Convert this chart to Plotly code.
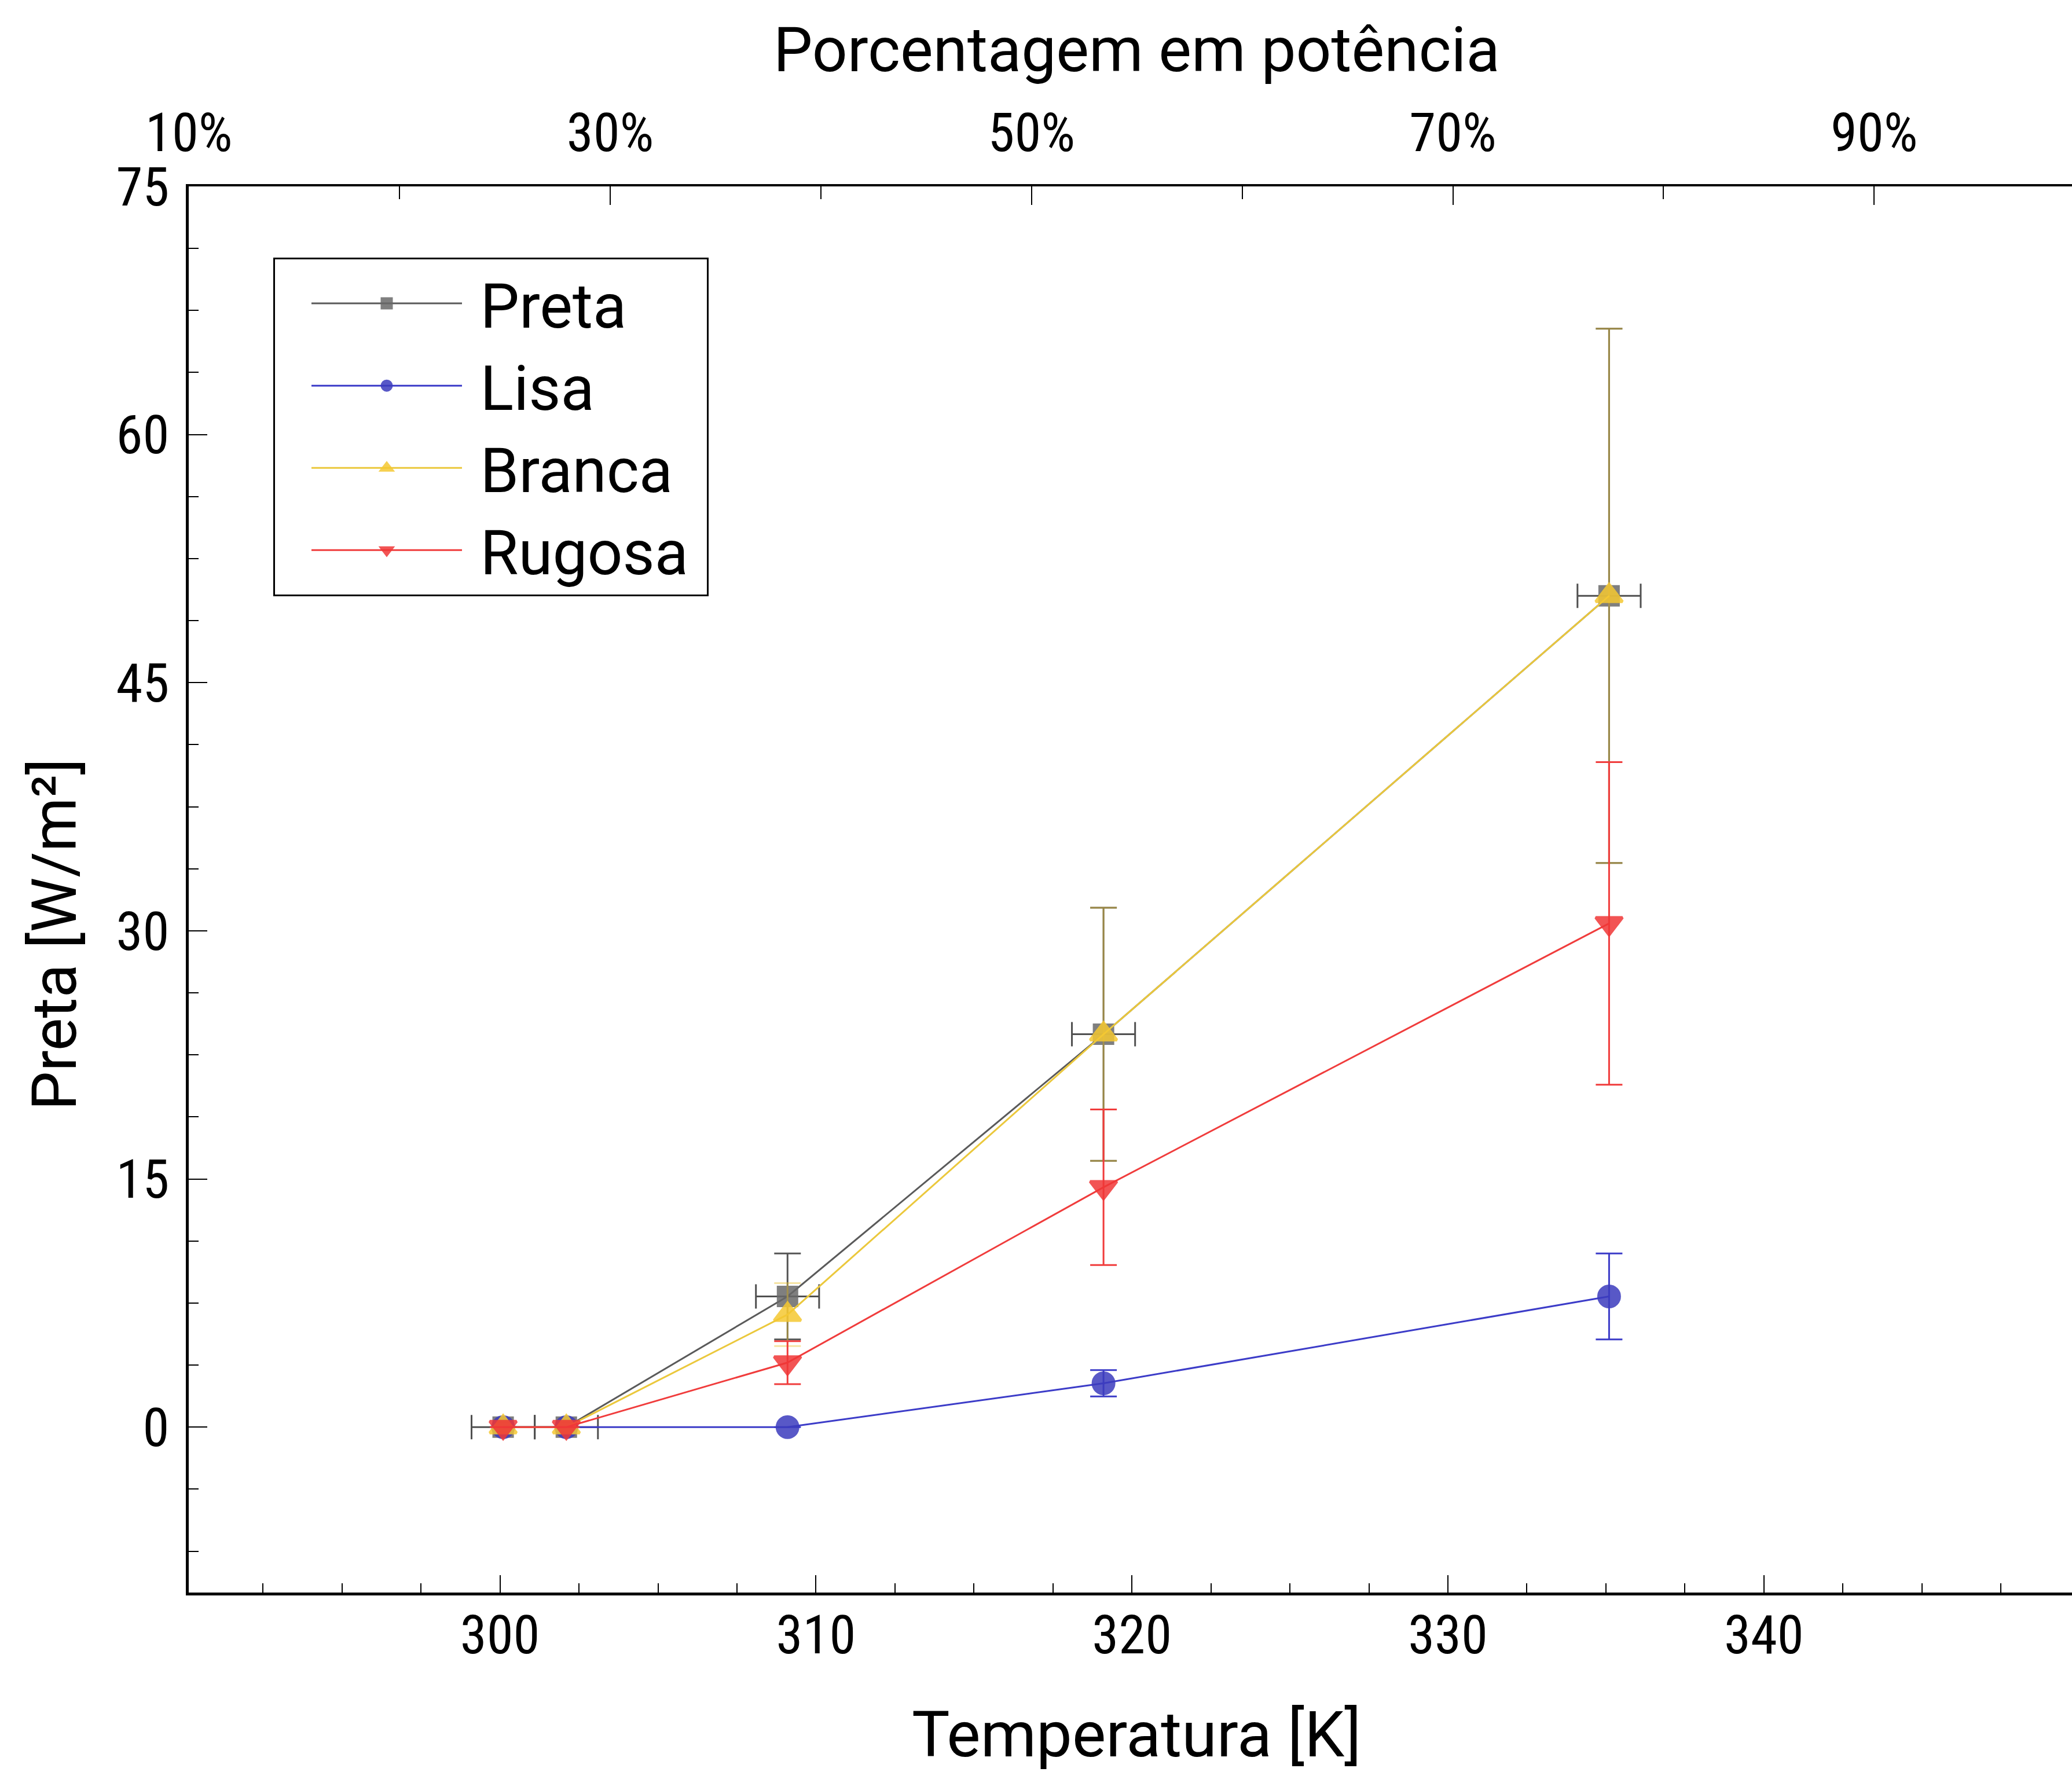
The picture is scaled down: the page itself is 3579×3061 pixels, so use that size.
import plotly.graph_objects as go

# ---- data ----
temperature = [300.1, 302.1, 309.1, 319.1, 335.1]
temperature_err = [1.0, 1.0, 1.0, 1.0, 1.0]

preta = [0, 0, 7.9, 23.75, 50.25]
preta_err = [None, None, 2.6, 7.65, 16.15]

lisa = [0, 0, 0, 2.65, 7.9]
lisa_err = [None, None, None, 0.8, 2.6]

branca = [0, 0, 6.8, 23.75, 50.25]
branca_err = [None, None, 1.9, 7.65, 16.15]

rugosa = [0, 0, 3.9, 14.5, 30.45]
rugosa_err = [None, None, 1.3, 4.7, 9.75]

temp_ticks = [300, 310, 320, 330, 340]
pct_ticks = [10, 30, 50, 70, 90]
y_ticks = [0, 15, 30, 45, 60, 75]

# ---- styling ----
W, H = 3579, 3061
L, R, T, B = 326, 0, 322, 310
TICK_FONT = "Liberation Sans Narrow, Roboto Condensed, Roboto, sans-serif"
TEXT_FONT = "Roboto, Lato, sans-serif"
NB = "\u00a0"

series = [
    ("Preta", preta, preta_err, "rgb(105,105,105)", "rgb(90,90,90)", "rgb(85,85,85)",
     "square", 32, True),
    ("Lisa", lisa, lisa_err, "rgb(60,60,190)", "rgb(60,60,200)", "rgb(60,60,200)",
     "circle", 36, False),
    ("Branca", branca, branca_err, "rgb(245,200,50)", "rgb(235,200,60)",
     "rgba(235,195,50,0.45)", "triangle-up", 40, False),
    ("Rugosa", rugosa, rugosa_err, "rgb(240,55,55)", "rgb(240,60,60)", "rgb(240,60,60)",
     "triangle-down", 40, False),
]

fig = go.Figure()
for name, yv, ye, mcol, lcol, ecol, sym, size, xerr in series:
    fig.add_trace(go.Scatter(
        x=temperature, y=yv, name=NB + name + NB, mode="lines+markers",
        line=dict(color=lcol, width=3),
        marker=dict(symbol=sym, size=size, color=mcol, opacity=0.85,
                    line=dict(color=mcol, width=5)),
        error_y=dict(type="data", array=ye, visible=True, color=ecol,
                     thickness=3, width=23),
        error_x=dict(type="data", array=temperature_err, visible=xerr,
                     color="rgb(80,80,80)", thickness=3, width=21),
    ))

# the power-percentage axis along the top
fig.add_trace(go.Scatter(x=pct_ticks, y=[None] * len(pct_ticks), xaxis="x2",
                         mode="markers", showlegend=False, hoverinfo="skip"))

x_lo, x_hi = 290.15, 349.75
p_lo = 9.99
fig.update_layout(
    width=W, height=H,
    margin=dict(l=L, r=R, t=T, b=B, autoexpand=False),
    paper_bgcolor="white", plot_bgcolor="white",
    font=dict(family=TEXT_FONT, color="black"),
    showlegend=True,
    legend=dict(
        x=(472 - L) / (W - L - R), y=(H - B - 445) / (H - T - B),
        xanchor="left", yanchor="top",
        bgcolor="white", bordercolor="black", borderwidth=3,
        font=dict(family=TEXT_FONT, size=107, color="black"),
        itemwidth=260, tracegroupgap=0, indentation=58,
    ),
    xaxis=dict(
        range=[x_lo, x_hi], showgrid=False, zeroline=False,
        showline=True, linecolor="black", linewidth=5,
        ticks="inside", ticklen=30, tickwidth=2, tickcolor="black",
        tickvals=temp_ticks,
        minor=dict(dtick=2.5, tick0=300, ticks="inside", ticklen=16,
                   tickwidth=2, tickcolor="black"),
        tickfont=dict(family=TICK_FONT, size=93, color="black"),
        ticklabelstandoff=-12,
    ),
    xaxis2=dict(
        overlaying="x", side="top", anchor="y",
        range=[p_lo, p_lo + (x_hi - x_lo) * 1.5], showgrid=False, zeroline=False,
        showline=True, linecolor="black", linewidth=4,
        ticks="inside", ticklen=32, tickwidth=2, tickcolor="black",
        tickvals=pct_ticks, ticktext=[f"{v}%" for v in pct_ticks],
        minor=dict(dtick=10, tick0=10, ticks="inside", ticklen=22,
                   tickwidth=2, tickcolor="black"),
        tickfont=dict(family=TICK_FONT, size=93, color="black"),
        ticklabelstandoff=20,
    ),
    yaxis=dict(
        range=[-10, 75], showgrid=False, zeroline=False,
        showline=True, linecolor="black", linewidth=5,
        ticks="inside", ticklen=32, tickwidth=2, tickcolor="black",
        tickvals=y_ticks,
        minor=dict(dtick=3.75, tick0=0, ticks="inside", ticklen=17,
                   tickwidth=2, tickcolor="black"),
        tickfont=dict(family=TICK_FONT, size=93, color="black"),
        ticklabelstandoff=10,
    ),
    annotations=[
        dict(text="Temperatura [K]", xref="paper", yref="paper",
             x=(1963 - L) / (W - L - R), y=(H - B - 2996) / (H - T - B),
             xanchor="center", yanchor="middle", showarrow=False,
             font=dict(family=TEXT_FONT, size=110, color="black")),
        dict(text="Porcentagem em potência", xref="paper", yref="paper",
             x=(1963 - L) / (W - L - R), y=(H - B - 86) / (H - T - B),
             xanchor="center", yanchor="middle", showarrow=False,
             font=dict(family=TEXT_FONT, size=107, color="black")),
        dict(text="Preta [W/m²]", xref="paper", yref="paper", textangle=-90,
             x=(94 - L) / (W - L - R), y=(H - B - 1614) / (H - T - B),
             xanchor="center", yanchor="middle", showarrow=False,
             font=dict(family=TEXT_FONT, size=107, color="black")),
    ],
)

fig.write_html("out.html")
